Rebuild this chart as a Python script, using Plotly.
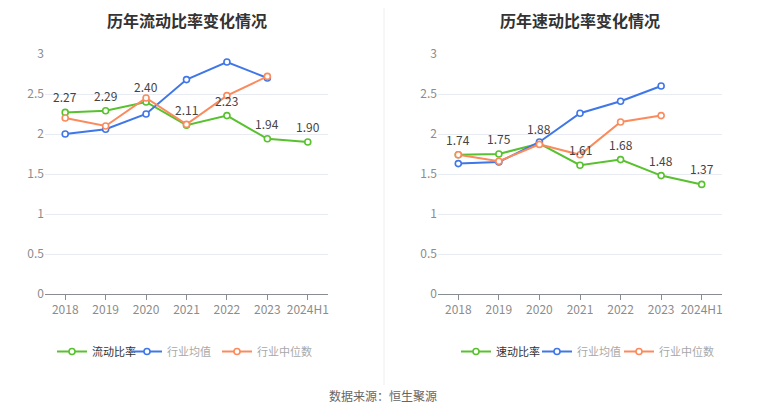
import plotly.graph_objects as go

YEARS = ["2018", "2019", "2020", "2021", "2022", "2023", "2024H1"]

# 流动比率
CURRENT_COMPANY = [2.27, 2.29, 2.40, 2.11, 2.23, 1.94, 1.90]
CURRENT_IND_MEAN = [2.00, 2.06, 2.25, 2.68, 2.90, 2.70]
CURRENT_IND_MEDIAN = [2.20, 2.10, 2.45, 2.12, 2.48, 2.72]

# 速动比率
QUICK_COMPANY = [1.74, 1.75, 1.88, 1.61, 1.68, 1.48, 1.37]
QUICK_IND_MEAN = [1.63, 1.65, 1.90, 2.26, 2.41, 2.60]
QUICK_IND_MEDIAN = [1.74, 1.66, 1.87, 1.74, 2.15, 2.23]

COLORS = {"company": "#58c12f", "mean": "#3f76e8", "median": "#fb8a5c"}
FONT = "Noto Sans CJK SC, Noto Sans, sans-serif"
W, H = 765, 413
OFF = 8  # the page body margin shifts the figure by this much


def px(x):
    return (x - OFF) / W


def py(y):
    return 1 - (y - OFF) / H


fig = go.Figure()
annotations = []


def add_panel(xa, ya, company, mean, median, name, legends):
    series = [
        (company, name, COLORS["company"], legends[0]),
        (mean, "行业均值", COLORS["mean"], legends[1]),
        (median, "行业中位数", COLORS["median"], legends[2]),
    ]
    for vals, label, color, leg in series:
        fig.add_trace(go.Scatter(
            x=YEARS[:len(vals)], y=vals, name=label, mode="lines+markers",
            xaxis=xa, yaxis=ya, legend=leg, showlegend=True,
            line=dict(color=color, width=2),
            marker=dict(symbol="circle", size=6, color="white",
                        line=dict(color=color, width=1.6)),
            hoverinfo="skip",
        ))
    # value labels above the company line (category index on x)
    for i, v in enumerate(company):
        annotations.append(dict(
            x=i, y=v, xref=xa, yref=ya, text=f"{v:.2f}", showarrow=False,
            xanchor="center", yanchor="bottom", yshift=5,
            font=dict(size=12, color="#444", family=FONT),
        ))


add_panel("x", "y", CURRENT_COMPANY, CURRENT_IND_MEAN, CURRENT_IND_MEDIAN,
          "流动比率", ["legend", "legend2", "legend3"])
add_panel("x2", "y2", QUICK_COMPANY, QUICK_IND_MEAN, QUICK_IND_MEDIAN,
          "速动比率", ["legend4", "legend5", "legend6"])

y_dom = [py(294), py(54)]
xaxis_style = dict(
    type="category", range=[-0.5, 6.5], showgrid=False,
    showline=True, linecolor="#8a8c94", linewidth=1,
    ticks="outside", ticklen=5, tickcolor="#8a8c94",
    tickfont=dict(size=12, color="#8c8c8c", family=FONT),
    fixedrange=True, automargin=False,
)
yaxis_style = dict(
    range=[0, 3], tickvals=[0, 0.5, 1, 1.5, 2, 2.5, 3],
    ticktext=["0", "0.5", "1", "1.5", "2", "2.5", "3"],
    showgrid=True, gridcolor="#e8ebf2", gridwidth=1,
    zeroline=False, showline=False, ticks="",
    tickfont=dict(size=12, color="#8c8c8c", family=FONT),
    fixedrange=True, automargin=False,
)


def legend_at(xpx, dark):
    return dict(
        x=px(xpx), y=py(337), xanchor="left", yanchor="top",
        orientation="h", bgcolor="rgba(0,0,0,0)", borderwidth=0,
        font=dict(size=11, color="#333" if dark else "#a8a8a8", family=FONT),
        itemwidth=30, tracegroupgap=0, visible=True,
    )


annotations += [
    dict(text="<b>历年流动比率变化情况</b>", x=px(187), y=py(20),
         xref="paper", yref="paper", showarrow=False,
         xanchor="center", yanchor="middle",
         font=dict(size=16, color="#333", family=FONT)),
    dict(text="<b>历年速动比率变化情况</b>", x=px(580), y=py(20),
         xref="paper", yref="paper", showarrow=False,
         xanchor="center", yanchor="middle",
         font=dict(size=16, color="#333", family=FONT)),
    dict(text="数据来源：恒生聚源", x=px(383), y=py(395),
         xref="paper", yref="paper", showarrow=False,
         xanchor="center", yanchor="middle",
         font=dict(size=12, color="#666", family=FONT)),
]

fig.update_layout(
    width=W, height=H, showlegend=True,
    margin=dict(l=0, r=0, t=0, b=0, pad=0, autoexpand=False),
    paper_bgcolor="white", plot_bgcolor="white",
    font=dict(family=FONT),
    xaxis=dict(domain=[px(45), px(328)], anchor="y", **xaxis_style),
    yaxis=dict(domain=y_dom, anchor="x", **yaxis_style),
    xaxis2=dict(domain=[px(438), px(722)], anchor="y2", **xaxis_style),
    yaxis2=dict(domain=y_dom, anchor="x2", **yaxis_style),
    legend=legend_at(52, True),
    legend2=legend_at(127, False),
    legend3=legend_at(217, False),
    legend4=legend_at(456, True),
    legend5=legend_at(537, False),
    legend6=legend_at(619, False),
    shapes=[
        dict(type="line", xref="paper", yref="paper",
             x0=px(384), x1=px(384), y0=1, y1=py(385),
             line=dict(color="#eeeeee", width=1)),
    ],
    annotations=annotations,
)

fig.write_html("out.html")
